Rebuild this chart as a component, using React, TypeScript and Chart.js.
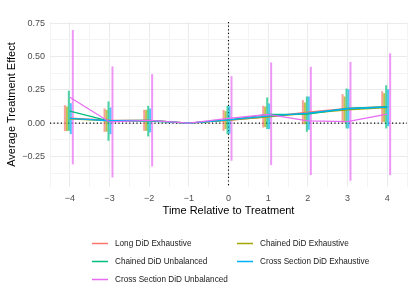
import React, { useEffect, useRef } from "react";
import { Chart, registerables } from "chart.js";
Chart.register(...registerables);

// ---------- data ----------
const periods = [-4, -3, -2, -1, 0, 1, 2, 3, 4];
const seriesNames = [
  "Long DiD Exhaustive",
  "Chained DiD Exhaustive",
  "Chained DiD Unbalanced",
  "Cross Section DiD Exhaustive",
  "Cross Section DiD Unbalanced",
];
const seriesColors = ["#F8766D", "#A3A500", "#00BF7D", "#00B0F6", "#E76BF3"];

const longEst = [0.037, 0.022, 0.021, 0, 0.02, 0.048, 0.083, 0.11, 0.124];
const longLo = [-0.06, -0.065, -0.058, null, -0.058, -0.033, -0.008, 0.005, 0.008];
const longHi = [0.135, 0.11, 0.1, null, 0.098, 0.13, 0.173, 0.218, 0.24];

const chainedExhEst = [0.032, 0.018, 0.021, 0, 0.023, 0.047, 0.074, 0.1, 0.116];
const chainedExhLo = [-0.06, -0.065, -0.058, null, -0.045, -0.03, -0.008, 0.005, 0.008];
const chainedExhHi = [0.125, 0.1, 0.1, null, 0.09, 0.125, 0.155, 0.2, 0.225];

const chainedUnbEst = [0.09, 0.015, 0.015, 0, 0.024, 0.065, 0.068, 0.11, 0.123];
const chainedUnbLo = [-0.058, -0.133, -0.1, null, -0.083, -0.045, -0.065, -0.04, -0.04];
const chainedUnbHi = [0.243, 0.163, 0.13, null, 0.13, 0.193, 0.2, 0.26, 0.285];

const crossExhEst = [0.035, 0.018, 0.02, 0, 0.025, 0.052, 0.075, 0.108, 0.12];
const crossExhLo = [-0.083, -0.083, -0.07, null, -0.08, -0.045, -0.05, -0.04, -0.023];
const crossExhHi = [0.15, 0.118, 0.11, null, 0.13, 0.148, 0.2, 0.255, 0.255];

const crossUnbEst = [0.195, 0.009, 0.021, 0, 0.035, 0.065, 0.017, 0.012, 0.068];
const crossUnbLo = [-0.31, -0.408, -0.326, null, -0.283, -0.316, -0.39, -0.433, -0.39];
const crossUnbHi = [0.7, 0.426, 0.368, null, 0.353, 0.456, 0.423, 0.46, 0.525];

const xTickValues = [-4, -3, -2, -1, 0, 1, 2, 3, 4];
const xTickLabels = ["\u22124", "\u22123", "\u22122", "\u22121", "0", "1", "2", "3", "4"];
const yTickValues = [-0.25, 0, 0.25, 0.5, 0.75];
const yTickLabels = ["\u22120.25", "0.00", "0.25", "0.50", "0.75"];
const xMinorValues = [-4.5, -3.5, -2.5, -1.5, -0.5, 0.5, 1.5, 2.5, 3.5, 4.5];
const yMinorValues = [-0.375, -0.125, 0.125, 0.375, 0.625];

const xTitle = "Time Relative to Treatment";
const yTitle = "Average Treatment Effect";

// ---------- style ----------
const FONT = "'Liberation Sans', Arial, sans-serif";
const dodge = [-0.125, -0.075, -0.025, 0.025, 0.075];

const estimates = [longEst, chainedExhEst, chainedUnbEst, crossExhEst, crossUnbEst];
const lows = [longLo, chainedExhLo, chainedUnbLo, crossExhLo, crossUnbLo];
const highs = [longHi, chainedExhHi, chainedUnbHi, crossExhHi, crossUnbHi];

function hexA(hex: string, a: number) {
  const r = parseInt(hex.slice(1, 3), 16);
  const g = parseInt(hex.slice(3, 5), 16);
  const b = parseInt(hex.slice(5, 7), 16);
  return `rgba(${r},${g},${b},${a})`;
}

const near = (a: number, b: number) => Math.abs(a - b) < 1e-6;

const errorBarPlugin = {
  id: "errorBars",
  beforeDatasetsDraw(chart: any) {
    const { ctx, chartArea, scales } = chart;
    const xs = scales.x;
    const ys = scales.y;
    ctx.save();
    ctx.beginPath();
    ctx.rect(chartArea.left, chartArea.top, chartArea.right - chartArea.left, chartArea.bottom - chartArea.top);
    ctx.clip();
    // reference lines
    ctx.strokeStyle = "#000";
    ctx.lineWidth = 1.1;
    ctx.setLineDash([1.2, 2.4]);
    const x0 = xs.getPixelForValue(0);
    const y0 = ys.getPixelForValue(0);
    ctx.beginPath();
    ctx.moveTo(chartArea.left, y0);
    ctx.lineTo(chartArea.right, y0);
    ctx.stroke();
    ctx.beginPath();
    ctx.moveTo(x0, chartArea.top);
    ctx.lineTo(x0, chartArea.bottom);
    ctx.stroke();
    ctx.setLineDash([]);
    // error bars
    ctx.lineWidth = 2;
    ctx.lineCap = "butt";
    for (let s = 0; s < seriesNames.length; s++) {
      ctx.strokeStyle = hexA(seriesColors[s], 0.7);
      for (let i = 0; i < periods.length; i++) {
        const lo = lows[s][i];
        const hi = highs[s][i];
        if (lo == null || hi == null) continue;
        const px = xs.getPixelForValue(periods[i] + dodge[s]);
        ctx.beginPath();
        ctx.moveTo(px, ys.getPixelForValue(lo));
        ctx.lineTo(px, ys.getPixelForValue(hi));
        ctx.stroke();
      }
    }
    ctx.restore();
  },
};

const legendPlugin = {
  id: "customLegend",
  afterDraw(chart: any) {
    const { ctx } = chart;
    const cols = [92, 237];
    const rows = [243.5, 261.5, 279.5];
    ctx.save();
    ctx.font = `8.2px ${FONT}`;
    ctx.textBaseline = "middle";
    ctx.textAlign = "left";
    chart.data.datasets.forEach((ds: any, i: number) => {
      const cx = cols[i % 2];
      const cy = rows[Math.floor(i / 2)];
      ctx.strokeStyle = ds.borderColor;
      ctx.lineWidth = 1.5;
      ctx.beginPath();
      ctx.moveTo(cx, cy);
      ctx.lineTo(cx + 16, cy);
      ctx.stroke();
      ctx.fillStyle = "#1a1a1a";
      ctx.fillText(ds.label, cx + 23, cy);
    });
    ctx.restore();
  },
};

export default function App() {
  const ref = useRef<HTMLCanvasElement | null>(null);
  useEffect(() => {
    document.body.style.margin = "0";
    const canvas = ref.current!;
    const datasets = seriesNames.map((name, s) => ({
      type: "line" as const,
      label: name,
      data: periods.map((x, i) => ({ x, y: estimates[s][i] })),
      borderColor: seriesColors[s],
      backgroundColor: seriesColors[s],
      borderWidth: 1.3,
      pointRadius: 0,
      tension: 0,
      order: seriesNames.length - s,
    }));
    const gridColor = (major: number[]) => (c: any) =>
      c.tick && major.some((v) => near(v, c.tick.value)) ? "#EBEBEB" : "#F4F4F4";
    const chart = new Chart(canvas, {
      type: "line",
      data: { datasets },
      plugins: [errorBarPlugin, legendPlugin],
      options: {
        animation: false,
        responsive: false,
        devicePixelRatio: 1,
        layout: { padding: { top: 22, right: 6, bottom: 82, left: 0 } },
        plugins: { legend: { display: false }, tooltip: { enabled: false } },
        scales: {
          x: {
            type: "linear",
            min: -4.5,
            max: 4.5,
            afterBuildTicks: (scale: any) => {
              scale.ticks = [...xTickValues, ...xMinorValues].sort((a, b) => a - b).map((v) => ({ value: v }));
            },
            afterFit: (scale: any) => {
              scale.height = 31;
            },
            grid: { color: gridColor(xTickValues), lineWidth: 1, drawTicks: false },
            border: { display: false },
            ticks: {
              autoSkip: false,
              maxRotation: 0,
              padding: 6,
              color: "#4D4D4D",
              font: { family: FONT, size: 9 },
              callback: (v: any) => {
                const idx = xTickValues.findIndex((t) => near(t, Number(v)));
                return idx >= 0 ? xTickLabels[idx] : "";
              },
            },
            title: {
              display: true,
              text: xTitle,
              color: "#000",
              font: { family: FONT, size: 11 },
              padding: { top: 0, bottom: 0 },
            },
          },
          y: {
            type: "linear",
            min: -0.48,
            max: 0.76,
            afterBuildTicks: (scale: any) => {
              scale.ticks = [...yTickValues, ...yMinorValues].sort((a, b) => a - b).map((v) => ({ value: v }));
            },
            afterFit: (scale: any) => {
              scale.width = 50;
            },
            grid: { color: gridColor(yTickValues), lineWidth: 1, drawTicks: false },
            border: { display: false },
            ticks: {
              autoSkip: false,
              padding: 5,
              color: "#4D4D4D",
              font: { family: FONT, size: 9 },
              callback: (v: any) => {
                const idx = yTickValues.findIndex((t) => near(t, Number(v)));
                return idx >= 0 ? yTickLabels[idx] : "";
              },
            },
            title: {
              display: true,
              text: yTitle,
              color: "#000",
              font: { family: FONT, size: 11 },
              padding: { top: 5, bottom: 0 },
            },
          },
        },
      },
    } as any);
    return () => chart.destroy();
  }, []);
  return (
    <div style={{ width: 413, height: 300 }}>
      <canvas ref={ref} width={413} height={300} style={{ width: 413, height: 300, display: "block" }} />
    </div>
  );
}
